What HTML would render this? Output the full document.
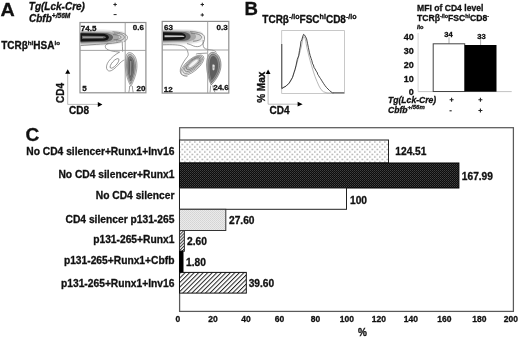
<!DOCTYPE html>
<html><head><meta charset="utf-8">
<style>
html,body{margin:0;padding:0;background:#fff;}
svg{display:block;filter:grayscale(1);}
text{font-family:"Liberation Sans",sans-serif;font-weight:bold;fill:#111;stroke:#111;stroke-width:0.3px;}
.it{font-style:italic;}
</style></head><body>
<svg width="520" height="338" viewBox="0 0 520 338">
<defs>
  <pattern id="pDots" width="5" height="5" patternUnits="userSpaceOnUse" x="3.25" y="140.75">
    <rect width="5" height="5" fill="#fff"/>
    <rect x="1" y="0.5" width="1.3" height="1.3" fill="#8a8a8a"/>
    <rect x="3.5" y="3" width="1.3" height="1.3" fill="#8a8a8a"/>
  </pattern>
  <pattern id="pDark" width="2" height="2" patternUnits="userSpaceOnUse">
    <rect width="2" height="2" fill="#0c0c0c"/>
    <rect x="0" y="0" width="1" height="1" fill="#404040"/>
    <rect x="1" y="1" width="1" height="1" fill="#303030"/>
  </pattern>
  <pattern id="pLight" width="2" height="2" patternUnits="userSpaceOnUse">
    <rect width="2" height="2" fill="#eaeaea"/>
    <rect x="0" y="0" width="1" height="1" fill="#d4d4d4"/>
    <rect x="1" y="1" width="1" height="1" fill="#d8d8d8"/>
  </pattern>
  <pattern id="pHatch" width="3.2" height="3.2" patternUnits="userSpaceOnUse" patternTransform="rotate(45)">
    <rect width="3.2" height="3.2" fill="#fff"/>
    <rect x="0" y="0" width="1.0" height="3.2" fill="#222"/>
  </pattern>
  <pattern id="pHatch2" width="2.2" height="2.2" patternUnits="userSpaceOnUse" patternTransform="rotate(45)">
    <rect width="2.2" height="2.2" fill="#fff"/>
    <rect x="0" y="0" width="1" height="2.2" fill="#333"/>
  </pattern>
</defs>

<!-- ================= PANEL A ================= -->
<text transform="translate(0.6,15.6) scale(1.06,1)" style="font-size:18.6px">A</text>
<text class="it" x="28.8" y="9.7" style="font-size:10px">Tg(Lck-Cre)</text>
<text class="it" x="29" y="21.6" style="font-size:10px">Cbfb<tspan dy="-3.8" style="font-size:6.6px">+/56M</tspan></text>
<path d="M113.40,4.00h3.40v1.00h-3.40z M114.60,2.80h1.00v3.40h-1.00z" fill="#222"/>
<path d="M113.60,14.10h3.00v1.00h-3.00z" fill="#222"/>
<path d="M200.60,4.00h3.40v1.00h-3.40z M201.80,2.80h1.00v3.40h-1.00z" fill="#222"/>
<path d="M200.60,14.40h3.40v1.00h-3.40z M201.80,13.20h1.00v3.40h-1.00z" fill="#222"/>

<text x="1.2" y="48.8" style="font-size:10px">TCRβ<tspan dy="-4" style="font-size:6.2px">hi</tspan><tspan dy="4">HSA</tspan><tspan dy="-4" style="font-size:6.2px">lo</tspan></text>

<!-- plot 1 -->
<g id="plot1">
  <rect x="80" y="22.5" width="65.9" height="70.3" fill="#fff" stroke="#8f8f8f" stroke-width="1.2"/>
  <!-- band soft halo -->
  <path d="M80.5,29.9 C96,29.2 116,29.6 123,31.5 C127.5,33.2 127.6,40 123.5,42.2 C118,44.6 108,45 100,45.6 L80.5,46.2 z" fill="#eaeaea"/>
  <path d="M80.5,30.8 L110,31 C119,31.4 124,33.8 124.3,37 C124.3,40.4 120,42.8 111,43.6 L80.5,45 z" fill="#d2d2d2"/>
  <path d="M80.5,31.6 L108,31.9 C115,32.4 119,34.6 119,37.2 C119,40 115,42.2 108,42.8 L80.5,43.8 z" fill="#a8a8a8"/>
  <path d="M80.5,32.5 L106,32.9 C110.5,33.6 113,35.3 113,37.2 C113,39.5 110.5,41.1 106,41.7 L80.5,42.6 z" fill="#606060"/>
  <path d="M80.5,33.2 L104,33.7 C107.5,34.4 108.8,35.8 108.8,37.2 C108.8,38.9 107.5,40.2 104,40.8 L80.5,41.4 z" fill="#141414"/>
  <path d="M82,35.7 L103,35.9 C105.5,36.3 106,36.8 106,37.3 C106,37.8 105.5,38.3 103,38.6 L82,38.7 z" fill="#6a6a6a"/>
  <path d="M83,36.8 L103,36.9 L103,37.7 L83,37.7 z" fill="#a8a8a8"/>
  <g fill="none" stroke="#5a5a5a" stroke-width="0.6">
    <path d="M112.5,31.8 C121,32 126.5,34 127.4,36.6 C127.8,39.4 126,41 123.8,41.6"/>
    <path d="M114,33 C120.5,33.3 124.2,35 124.4,37.2 C124.4,39.4 121.5,40.8 116,41"/>
    <path d="M113,34.6 C118,34.8 121,35.8 121,37.2 C121,38.6 118.5,39.6 113.5,39.8"/>
    <path d="M80.5,45.6 C92,44.6 103,44 108.5,43.6 C114,43.2 118,42.5 121.5,41.6"/>
    <path d="M108.5,43.6 C104.8,44.5 104.5,47 106.6,49 C109,50.8 114,51.5 119.6,52.1"/>
    <path d="M122.2,41.5 C122.4,45 122.5,48.5 122.6,51.7"/>
    <path d="M119.6,52.1 C115,54.5 111,58 108.5,61.5 C106.8,64 106.2,66.5 106.6,68.4 C107.2,70.8 109.2,71.6 111.4,70.6 C114.5,69 117.5,65.8 120,63 C121.8,61.2 123.2,60.4 124.4,60"/>
    <ellipse cx="114.5" cy="63.4" rx="6.1" ry="2.3" transform="rotate(-48 114.5 63.4)"/>
    <path d="M129.6,86 C129.8,88 129.2,90.5 128.8,92.4 M132.4,86 C132.2,88 132.8,90.5 133.2,92.4"/>
  </g>
  <!-- cluster -->
  <path d="M129.6,52.6 C134,52.8 137,58.5 137,65.5 C137,73 134,80.5 130.8,86.4 C127.6,80.5 125.2,73 125.2,65.5 C125.2,58.5 125.6,52.5 129.6,52.6 z" fill="#e2e2e2" stroke="#666" stroke-width="0.55"/>
  <path d="M129.8,54.4 C133.2,54.6 135.6,59.5 135.6,66 C135.6,72.5 133.3,79 130.8,83.8 C128.3,79 126.5,72.5 126.5,66 C126.5,59.5 126.9,54.3 129.8,54.4 z" fill="#b4b4b4" stroke="#555" stroke-width="0.5"/>
  <path d="M130,56.5 C132.6,56.7 134.2,61 134.2,66.5 C134.2,72 132.6,77 130.8,81 C129,77 127.8,72 127.8,66.5 C127.8,61 128,56.4 130,56.5 z" fill="#7c7c7c" stroke="#444" stroke-width="0.5"/>
  <path d="M130.3,58.5 C132,58.7 132.9,62 132.9,67 C132.9,71.5 131.9,75.5 130.8,78 C129.7,75.5 129,71.5 129,67 C129,62 129.2,58.5 130.3,58.5 z" fill="#5c5c5c"/>
  <path d="M130.5,61 L131.2,61 L131.1,75.5 L130.5,75.5 z" fill="#c4c4c4"/>
  <line x1="80" y1="50.4" x2="145.9" y2="50.4" stroke="#999" stroke-width="0.9"/>
  <line x1="125.2" y1="22.5" x2="125.2" y2="92.8" stroke="#999" stroke-width="0.9"/>
  <g style="font-size:8px">
    <text x="80.8" y="30.5">74.5</text>
    <text x="132.8" y="30.2">0.6</text>
    <text x="82.3" y="91.3">5</text>
    <text x="136.6" y="91">20</text>
  </g>
</g>
<!-- plot 2 -->
<g id="plot2">
  <rect x="162.2" y="21.4" width="66.6" height="71.7" fill="#fff" stroke="#8f8f8f" stroke-width="1.2"/>
  <!-- band -->
  <path d="M163,29.2 C178,28.6 194,29.2 200.5,31.2 C205,33.2 205,39.5 201.5,41.8 C196,44.2 186,44.2 178,44.6 L163,45.2 z" fill="#eaeaea"/>
  <path d="M163,30 L188,30.2 C196,30.6 200.8,33.2 201,36.6 C201,40 197,42.3 189,42.8 L163,43.8 z" fill="#d2d2d2"/>
  <path d="M163,30.8 L186,31.1 C192.5,31.6 196,33.9 196,36.6 C196,39.4 192.5,41.3 186,41.8 L163,42.6 z" fill="#a8a8a8"/>
  <path d="M163,31.6 L184,32 C188.5,32.7 190.6,34.6 190.6,36.5 C190.6,38.6 188.5,40.2 184,40.7 L163,41.3 z" fill="#606060"/>
  <path d="M163,32.2 L181.5,32.8 C184.5,33.5 185.8,35 185.8,36.4 C185.8,38 184.5,39.2 181.5,39.8 L163,40.3 z" fill="#141414"/>
  <path d="M164.5,35.3 L182,35.5 C184,35.8 184.5,36.1 184.5,36.3 C184.5,36.6 184,36.9 182,37.1 L164.5,37.2 z" fill="#c8c8c8"/>
  <g fill="none" stroke="#5a5a5a" stroke-width="0.6">
    <path d="M190,31.6 C199,31.8 203.8,33.8 204.5,36.8 C205,40 203.5,43.5 201.5,45.2 C199.5,47 196,47 193.5,46 C191,45 189.5,44 187,43.6"/>
    <path d="M191,33.2 C197.5,33.5 201.4,35 201.6,37.2 C201.6,39.4 198.5,41 193,41.2"/>
    <path d="M163,44.8 C172,44.6 179.5,44.6 183.5,46.5 C186.5,48 187.4,50 187.8,52 C188.4,54 188.5,55 187.5,56.5 C186,58.5 184,61 182.5,64 C181,66.5 180,69.5 180.3,71.6 C180.8,74.5 183.5,76.5 187.4,76.3"/>
    <path d="M203.2,40 C202.8,44 203,46.5 204.2,48 C205.5,49.3 208.5,49.6 211.5,50 C214,50.4 215.5,51 216.5,52.4"/>
    <path d="M195.9,54.5 C196.5,53.8 197,53.6 197.8,53.6 C201,53.5 204,53.2 207.2,53.1"/>
    <path d="M210.6,85.5 C210.6,88 210.2,90.5 210,92.4 M212.6,85.5 C213,88 214,90.5 215,92.4"/>
  </g>
  <!-- DP lobe -->
  <g transform="rotate(-40 192.4 65.2)">
    <ellipse cx="192.4" cy="65.2" rx="14.2" ry="6" fill="#f5f5f5" stroke="#666" stroke-width="0.55"/>
    <ellipse cx="192.9" cy="65" rx="12.3" ry="5" fill="#e4e4e4" stroke="#666" stroke-width="0.55"/>
    <ellipse cx="193.4" cy="64.8" rx="10.4" ry="4.1" fill="#d0d0d0" stroke="#5a5a5a" stroke-width="0.55"/>
    <ellipse cx="193.9" cy="64.6" rx="8.5" ry="3.2" fill="#bababa" stroke="#555" stroke-width="0.5"/>
    <ellipse cx="194.4" cy="64.4" rx="5.6" ry="1.5" fill="#f2f2f2"/>
  </g>
  <!-- cluster -->
  <path d="M213,52.3 C218,52.8 221,58.5 221,65 C221,72.5 216.5,79.5 211.2,85 C208.5,79.5 206.6,72.5 206.6,65 C206.6,58 208.5,52 213,52.3 z" fill="#c4c4c4" stroke="#555" stroke-width="0.55"/>
  <path d="M213.2,54 C217,54.5 219.6,59.5 219.6,65.5 C219.6,72 215.6,78.5 211.4,82.8 C209.2,78.5 208,72 208,65.5 C208,59.5 209.6,53.8 213.2,54 z" fill="#8e8e8e" stroke="#444" stroke-width="0.5"/>
  <path d="M213.3,56 C216.2,56.4 218.1,60.5 218.1,66 C218.1,71.5 215,76.8 211.6,80.4 C210,76.5 209.4,71.5 209.4,66 C209.4,60.5 210.6,55.8 213.3,56 z" fill="#5e5e5e"/>
  <path d="M212.4,64.6 C213.6,64.3 214.9,64.8 214.8,66.5 C214.7,68.5 214.6,70.4 213.4,70.6 C212.4,70.6 212.3,68.5 212.3,66.5 z" fill="#b8b8b8"/>
  <rect x="212.8" y="64.8" width="1.6" height="1.8" fill="#e6e6e6"/>
  <rect x="212.9" y="68.2" width="1.3" height="1.8" fill="#dcdcdc"/>
  <line x1="162.2" y1="50" x2="228.8" y2="50" stroke="#999" stroke-width="0.9"/>
  <line x1="207.7" y1="21.4" x2="207.7" y2="93.1" stroke="#999" stroke-width="0.9"/>
  <g style="font-size:8px">
    <text x="164" y="30.2">63</text>
    <text x="216.6" y="30.2">0.3</text>
    <text x="163.7" y="91.5">12</text>
    <text x="213.2" y="90.2">24.6</text>
  </g>
</g>

<!-- axis arrows A -->
<line x1="67.7" y1="104.4" x2="67.7" y2="73.5" stroke="#aaa" stroke-width="0.8"/>
<path d="M65.2,73.8 L67.7,69.2 L70.2,73.8 z" fill="#000"/>
<line x1="67.7" y1="104.4" x2="98" y2="104.4" stroke="#aaa" stroke-width="0.8"/>
<path d="M97.8,101.9 L102.4,104.4 L97.8,106.9 z" fill="#000"/>
<text transform="translate(63.6,103) rotate(-90)" style="font-size:10px">CD4</text>
<text x="69" y="113.9" style="font-size:10px">CD8</text>

<!-- ================= PANEL B ================= -->
<text x="244.5" y="15.4" style="font-size:18.6px">B</text>
<text x="262.3" y="22.6" style="font-size:10px">TCRβ<tspan dy="-3.9" style="font-size:7.1px">-/lo</tspan><tspan dy="3.9">FSC</tspan><tspan dy="-3.9" style="font-size:7.1px">hi</tspan><tspan dy="3.9">CD8</tspan><tspan dy="-3.9" style="font-size:7.1px">-/lo</tspan></text>

<rect x="281.7" y="30.6" width="62.8" height="62.8" fill="none" stroke="#bbb" stroke-width="0.8"/>
<polyline fill="none" stroke="#9a9a9a" stroke-width="0.7" points="282,88.6 286,86 290,82.5 293,76 295,70 297,63 298.8,56 300.5,50 301.5,46 302.2,42 302.8,39 303.4,37 304.2,36.5 305,38 305.8,41.5 306.4,45 307.2,49 308.2,53 309.3,57.5 310.5,62 312,67 313.5,72 315,76.5 317,81.5 319,86 321,89.5 323.5,91.8 327,92.9 334,93.1"/>
<polyline fill="none" stroke="#1a1a1a" stroke-width="0.8" stroke-linejoin="round" points="281.8,44 281.8,88.6 283,87.6 286,86.2 289,83.2 291,80 292.5,77.5 294,72.5 295,69.5 296,65.5 297.3,59.3 298.7,55.7 299.5,50.4 300.4,46 300.9,41.5 301.8,39.8 302.6,37 303.5,34.4 304.3,34.8 305.3,36.2 306.6,38.9 307.5,43.3 308.4,47.7 309.3,52.2 310.2,55.7 311.1,58.4 311.8,60.5 312.6,63.8 313.4,65 314.2,67.8 315.2,69 316.2,71.2 317,72 317.8,74.5 318.6,75.6 319.5,77.2 320.4,78.4 321.5,80.2 322.5,81.8 323.5,83.4 325,85.6 326.5,87.5 328,89 329.5,90.5 331,91.8 332.5,92.8 344.2,92.8"/>

<line x1="268.1" y1="104.2" x2="268.1" y2="73.5" stroke="#aaa" stroke-width="0.8"/>
<path d="M265.7,73.9 L268.1,69.4 L270.5,73.9 z" fill="#000"/>
<line x1="268.1" y1="104.2" x2="298" y2="104.2" stroke="#aaa" stroke-width="0.8"/>
<path d="M297.6,101.8 L302.6,104.2 L297.6,106.6 z" fill="#000"/>
<text transform="translate(265.2,102.8) rotate(-90)" style="font-size:10px">% Max</text>
<text x="269.5" y="113.8" style="font-size:10px">CD4</text>

<!-- MFI bar chart -->
<text x="417" y="10.5" style="font-size:8.6px">MFI of CD4 level</text>
<text x="417" y="20.9" style="font-size:8.6px">TCRβ<tspan dy="-3.4" style="font-size:5.4px">-/lo</tspan><tspan dy="3.4">FSC</tspan><tspan dy="-3.4" style="font-size:5.4px">hi</tspan><tspan dy="3.4">CD8</tspan><tspan dy="-3.4" style="font-size:5.4px">-</tspan></text>
<text x="417" y="28.9" style="font-size:5.6px">/lo</text>

<line x1="418.1" y1="33" x2="418.1" y2="91.5" stroke="#ccc" stroke-width="0.8"/>
<line x1="418.1" y1="91.6" x2="511.7" y2="91.6" stroke="#bbb" stroke-width="0.9"/>
<g style="font-size:9px" text-anchor="end">
  <text x="413.8" y="39.7">40</text>
  <text x="413.8" y="53.8">30</text>
  <text x="413.8" y="68.2">20</text>
  <text x="413.8" y="81.8">10</text>
  <text x="413.8" y="94.6">0</text>
</g>
<line x1="449" y1="37.3" x2="449" y2="43.8" stroke="#999" stroke-width="0.8"/>
<line x1="480.6" y1="39" x2="480.6" y2="45" stroke="#999" stroke-width="0.8"/>
<rect x="433.2" y="43.8" width="31.5" height="47.7" fill="#fff" stroke="#444" stroke-width="1"/>
<rect x="464.7" y="45" width="31.8" height="46.7" fill="#000"/>
<g style="font-size:7.6px" text-anchor="middle">
  <text x="448.5" y="36.6">34</text>
  <text x="481.5" y="39.2">33</text>
</g>
<text class="it" x="388" y="102.9" style="font-size:8.6px">Tg(Lck-Cre)</text>
<text class="it" x="388" y="112.6" style="font-size:8.6px">Cbfb<tspan dy="-3.6" style="font-size:6px">+/56m</tspan></text>
<path d="M449.60,99.25h4.00v1.10h-4.00z M451.05,97.80h1.10v4.00h-1.10z" fill="#222"/>
<path d="M449.50,110.25h2.20v1.10h-2.20z" fill="#222"/>
<path d="M478.40,99.25h4.00v1.10h-4.00z M479.85,97.80h1.10v4.00h-1.10z" fill="#222"/>
<path d="M478.40,109.95h4.00v1.10h-4.00z M479.85,108.50h1.10v4.00h-1.10z" fill="#222"/>

<!-- ================= PANEL C ================= -->
<text x="25.4" y="141" style="font-size:19px">C</text>
<rect x="179.6" y="127.7" width="333.8" height="183.7" fill="#fff" stroke="#5a5a5a" stroke-width="1.25"/>

<!-- bars -->
<rect x="179.5" y="140" width="209" height="23" fill="url(#pDots)" stroke="#222" stroke-width="1"/>
<rect x="179.5" y="163" width="279.4" height="25" fill="url(#pDark)" stroke="#000" stroke-width="1"/>
<rect x="179.5" y="188" width="167" height="21.3" fill="#fff" stroke="#222" stroke-width="1"/>
<rect x="179.5" y="209.3" width="46.3" height="21.2" fill="url(#pLight)" stroke="#333" stroke-width="1"/>
<rect x="179.5" y="230.5" width="4.9" height="20.7" fill="url(#pHatch2)" stroke="#333" stroke-width="1"/>
<rect x="179.5" y="251.2" width="3.5" height="21.2" fill="#000" stroke="#000" stroke-width="1"/>
<rect x="179.5" y="272.4" width="66.8" height="20.7" fill="url(#pHatch)" stroke="#111" stroke-width="1"/>

<g style="font-size:10.25px" text-anchor="end">
  <text x="174.4" y="154.8">No CD4 silencer+Runx1+Inv16</text>
  <text x="174.4" y="177.8">No CD4 silencer+Runx1</text>
  <text x="174.4" y="198.5">No CD4 silencer</text>
  <text x="174.4" y="222.8">CD4 silencer p131-265</text>
  <text x="174.4" y="242.9">p131-265+Runx1</text>
  <text x="174.4" y="263.6">p131-265+Runx1+Cbfb</text>
  <text x="174.4" y="286.9">p131-265+Runx1+Inv16</text>
</g>
<g style="font-size:10.2px">
  <text x="395.3" y="155.1">124.51</text>
  <text x="461.8" y="179.8">167.99</text>
  <text x="350" y="203.5">100</text>
  <text x="229" y="224.3">27.60</text>
  <text x="187" y="245.1">2.60</text>
  <text x="186" y="266.3">1.80</text>
  <text x="248.7" y="287.1">39.60</text>
</g>
<g style="font-size:8.5px" text-anchor="middle">
  <text x="177.8" y="322.3">0</text>
  <text x="213.1" y="322.3">20</text>
  <text x="245.9" y="322.3">40</text>
  <text x="279.5" y="322.3">60</text>
  <text x="315.5" y="322.3">80</text>
  <text x="346.9" y="322.3">100</text>
  <text x="378.9" y="322.3">120</text>
  <text x="410.9" y="322.3">140</text>
  <text x="444.4" y="322.3">160</text>
  <text x="479.4" y="322.3">180</text>
  <text x="510.9" y="322.3">200</text>
</g>
<text x="362.5" y="335.9" text-anchor="middle" style="font-size:10px">%</text>
</svg>
</body></html>
